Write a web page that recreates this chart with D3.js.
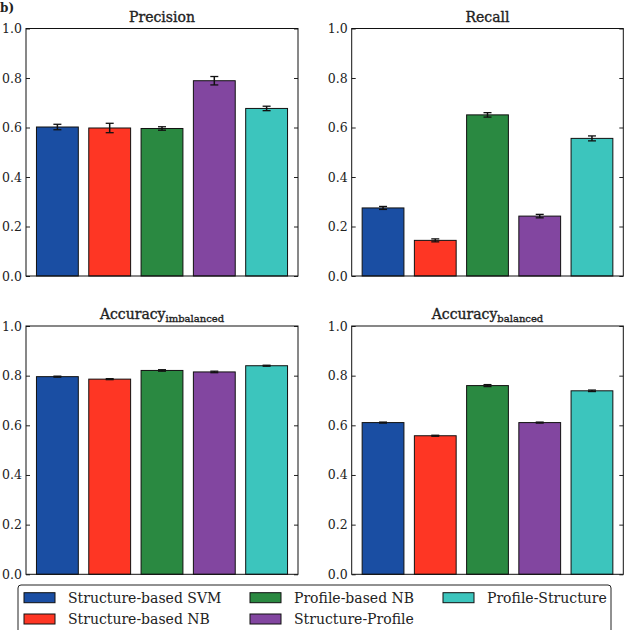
<!DOCTYPE html>
<html>
<head>
<meta charset="utf-8">
<script src="https://cdn.jsdelivr.net/npm/d3@7"></script>
<style>
  body { margin: 0; background: #fff; }
  text { font-family: "DejaVu Serif", serif; fill: #222; }
</style>
</head>
<body>
<svg id="fig" width="636" height="630"></svg>
<script>
// methods (legend order)
var methods = ["Structure-based SVM", "Structure-based NB", "Profile-based NB", "Structure-Profile", "Profile-Structure"];
var colors = ["#1a4ea3", "#fe3624", "#2a8941", "#8246a0", "#3cc5bd"];

// panel values, one per method
var precision = [0.602, 0.598, 0.596, 0.789, 0.677];
var precisionErr = [0.011, 0.019, 0.007, 0.017, 0.009];
var recall = [0.275, 0.144, 0.651, 0.242, 0.556];
var recallErr = [0.006, 0.006, 0.009, 0.007, 0.010];
var accImb = [0.796, 0.786, 0.821, 0.815, 0.840];
var accImbErr = [0.002, 0.002, 0.003, 0.003, 0.002];
var accBal = [0.611, 0.558, 0.760, 0.611, 0.739];
var accBalErr = [0.002, 0.002, 0.004, 0.002, 0.003];

var yTicks = [0.0, 0.2, 0.4, 0.6, 0.8, 1.0];

var svg = d3.select("#fig");

// panel label
svg.append("text").attr("x", 0).attr("y", 12)
    .attr("font-size", 12).attr("font-weight", "bold").text("b)");

var panels = [
    {title: "Precision", sub: null, vals: precision, errs: precisionErr, x0: 26, x1: 298, y0: 28.5, y1: 276},
    {title: "Recall", sub: null, vals: recall, errs: recallErr, x0: 351.7, x1: 623.3, y0: 28.5, y1: 276},
    {title: "Accuracy", sub: "imbalanced", vals: accImb, errs: accImbErr, x0: 26, x1: 298, y0: 326, y1: 574.3},
    {title: "Accuracy", sub: "balanced", vals: accBal, errs: accBalErr, x0: 351.7, x1: 623.3, y0: 326, y1: 574.3}
];

panels.forEach(function(p) {
    var x = d3.scaleBand().domain(methods).range([p.x0, p.x1])
        .paddingInner(0.2).paddingOuter(0.2);
    var y = d3.scaleLinear().domain([0, 1]).range([p.y1, p.y0]);
    var g = svg.append("g");

    // bars
    g.selectAll(".bar").data(p.vals).enter().append("rect")
        .attr("x", function(d, i) { return x(methods[i]); })
        .attr("y", function(d) { return y(d); })
        .attr("width", x.bandwidth())
        .attr("height", function(d) { return y(0) - y(d); })
        .attr("fill", function(d, i) { return colors[i]; })
        .attr("stroke", "#111").attr("stroke-width", 1);

    // error bars
    var eb = g.selectAll(".err").data(p.vals).enter().append("g")
        .attr("transform", function(d, i) { return "translate(" + (x(methods[i]) + x.bandwidth() / 2) + ",0)"; });
    eb.append("line")
        .attr("y1", function(d, i) { return y(d - p.errs[i]); })
        .attr("y2", function(d, i) { return y(d + p.errs[i]); })
        .attr("stroke", "#111").attr("stroke-width", 1.5);
    eb.append("line").attr("x1", -4).attr("x2", 4)
        .attr("y1", function(d, i) { return y(d - p.errs[i]); })
        .attr("y2", function(d, i) { return y(d - p.errs[i]); })
        .attr("stroke", "#111").attr("stroke-width", 1.3);
    eb.append("line").attr("x1", -4).attr("x2", 4)
        .attr("y1", function(d, i) { return y(d + p.errs[i]); })
        .attr("y2", function(d, i) { return y(d + p.errs[i]); })
        .attr("stroke", "#111").attr("stroke-width", 1.3);

    // y axes: inward ticks left and right
    var left = g.append("g").attr("transform", "translate(" + p.x0 + ",0)")
        .call(d3.axisLeft(y).tickValues(yTicks).tickSizeInner(-4).tickSizeOuter(0).tickPadding(4).tickFormat(d3.format(".1f")));
    left.select(".domain").remove();
    left.selectAll("text").attr("font-size", 12.5).attr("fill", "#222");
    left.selectAll("line").attr("stroke", "#222");
    var right = g.append("g").attr("transform", "translate(" + p.x1 + ",0)")
        .call(d3.axisRight(y).tickValues(yTicks).tickSizeInner(-4).tickSizeOuter(0).tickFormat(""));
    right.select(".domain").remove();
    right.selectAll("line").attr("stroke", "#222");

    // frame
    g.append("rect").attr("x", p.x0).attr("y", p.y0)
        .attr("width", p.x1 - p.x0).attr("height", p.y1 - p.y0)
        .attr("fill", "none").attr("stroke", "#111").attr("stroke-width", 1);

    // title
    var t = g.append("text").attr("x", (p.x0 + p.x1) / 2).attr("y", p.y0 - 7)
        .attr("text-anchor", "middle").attr("font-size", 14)
        .attr("stroke", "#222").attr("stroke-width", 0.35);
    t.append("tspan").text(p.title);
    if (p.sub) {
        t.append("tspan").attr("font-size", 10).attr("dy", 3).text(p.sub);
    }
});

// legend
var legend = svg.append("g");
legend.append("rect").attr("x", 18).attr("y", 585).attr("width", 593).attr("height", 50)
    .attr("rx", 3).attr("fill", "#fff").attr("stroke", "#222").attr("stroke-width", 1);
var colX = [24, 250, 443];
var rowY = [592.7, 614];
var legendItems = legend.selectAll(".item").data(methods).enter().append("g")
    .attr("transform", function(d, i) {
        return "translate(" + colX[Math.floor(i / 2)] + "," + rowY[i % 2] + ")";
    });
legendItems.append("rect").attr("width", 31).attr("height", 10)
    .attr("fill", function(d, i) { return colors[i]; })
    .attr("stroke", "#111").attr("stroke-width", 1);
legendItems.append("text").attr("x", 44).attr("y", 10)
    .attr("font-size", 14).text(function(d) { return d; });
</script>
</body>
</html>
